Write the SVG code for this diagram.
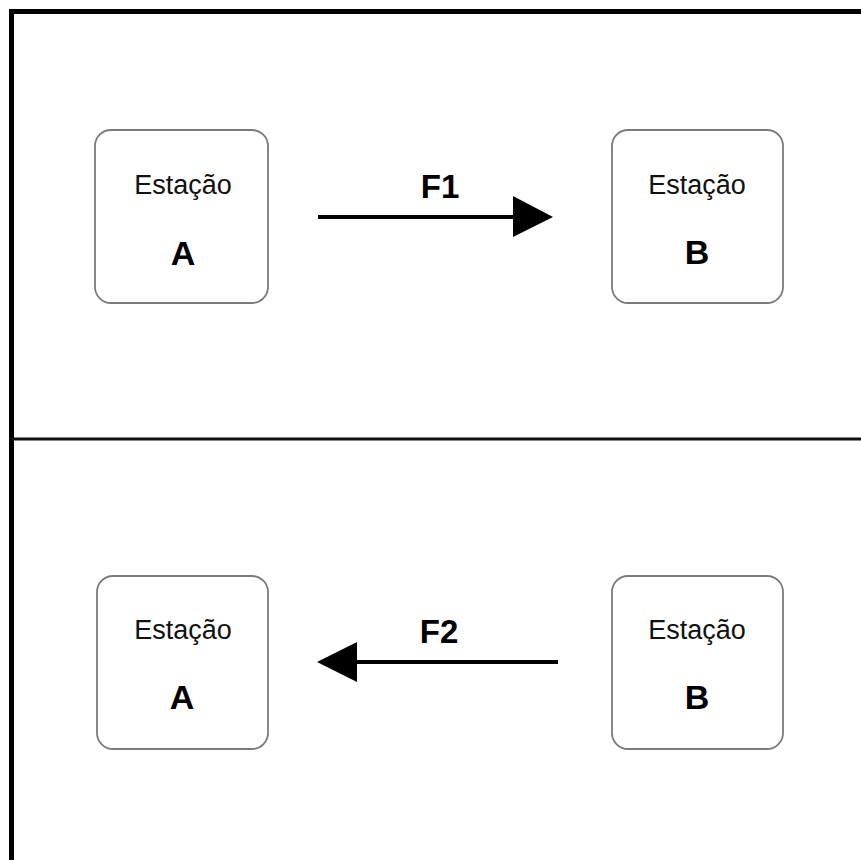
<svg xmlns="http://www.w3.org/2000/svg" width="861" height="860" viewBox="0 0 861 860">
  <style>
    .frame { fill: none; stroke: #000; stroke-width: 5; }
    .divider { stroke: #111; stroke-width: 3; }
    .box { fill: #fff; stroke: #7a7a7a; stroke-width: 1.8; }
    .name { font-family: "Liberation Sans", Arial, sans-serif; font-size: 27px; fill: #111; text-anchor: middle; }
    .id { font-family: "Liberation Sans", Arial, sans-serif; font-size: 34px; font-weight: bold; fill: #000; text-anchor: middle; }
    .flow { stroke: #000; stroke-width: 4; fill: none; }
    .lbl { font-family: "Liberation Sans", Arial, sans-serif; font-size: 33px; font-weight: bold; fill: #000; text-anchor: middle; }
  </style>
  <rect width="861" height="860" fill="#fff"/>

  <!-- outer frame (left and top edges) and divider between the two panels -->
  <g id="frame">
    <path class="frame" d="M11.5 870 V11.5 H870"/>
    <line class="divider" x1="11" y1="439" x2="861" y2="439"/>
  </g>

  <!-- top panel -->
  <g id="top-station-a">
    <rect class="box" x="95" y="130" width="173" height="173" rx="16"/>
    <text class="name" x="183" y="194">Estação</text>
    <text class="id" x="183" y="265">A</text>
  </g>
  <g id="top-station-b">
    <rect class="box" x="612" y="130" width="171" height="173" rx="16"/>
    <text class="name" x="697" y="194">Estação</text>
    <text class="id" x="697" y="264">B</text>
  </g>

  <!-- bottom panel -->
  <g id="bottom-station-a">
    <rect class="box" x="97" y="576" width="171" height="173" rx="16"/>
    <text class="name" x="183" y="639">Estação</text>
    <text class="id" x="182" y="709">A</text>
  </g>
  <g id="bottom-station-b">
    <rect class="box" x="612" y="576" width="171" height="173" rx="16"/>
    <text class="name" x="697" y="639">Estação</text>
    <text class="id" x="697" y="709">B</text>
  </g>

  <!-- connectors -->
  <g id="connectors">
    <g id="flow-f1">
      <line class="flow" x1="318" y1="217" x2="515" y2="217"/>
      <polygon points="513,196 553,217 513,237" fill="#000"/>
      <text class="lbl" x="440" y="198">F1</text>
    </g>
    <g id="flow-f2">
      <line class="flow" x1="355" y1="662" x2="558" y2="662"/>
      <polygon points="357,642 317,662 357,682" fill="#000"/>
      <text class="lbl" x="439" y="643">F2</text>
    </g>
  </g>
</svg>
